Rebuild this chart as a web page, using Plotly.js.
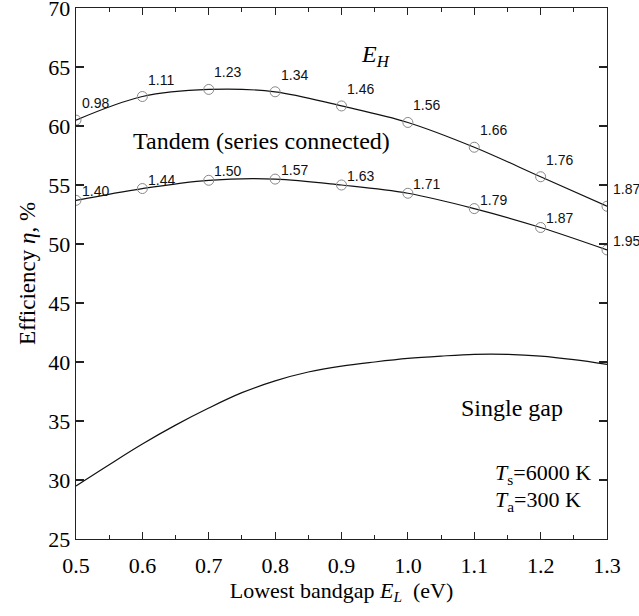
<!DOCTYPE html>
<html>
<head>
<meta charset="utf-8">
<script src="https://cdn.plot.ly/plotly-3.0.1.min.js"></script>
<style>html,body{margin:0;padding:0;background:#fff;}#chart{width:639px;height:616px;}</style>
</head>
<body>
<div id="chart"></div>
<script>
// Lowest bandgap E_L (eV) at the marked points
const bandgapL = [0.5, 0.6, 0.7, 0.8, 0.9, 1.0, 1.1, 1.2, 1.3];
// Efficiency (%) of the E_H-optimised two-gap cell
const effUpper = [60.5, 62.5, 63.1, 62.9, 61.7, 60.3, 58.2, 55.7, 53.2];
const labelsUpper = ["0.98", "1.11", "1.23", "1.34", "1.46", "1.56", "1.66", "1.76", "1.87"];
// Efficiency (%) of the series-connected tandem
const effTandem = [53.7, 54.7, 55.4, 55.5, 55.0, 54.3, 53.0, 51.4, 49.5];
const labelsTandem = ["1.40", "1.44", "1.50", "1.57", "1.63", "1.71", "1.79", "1.87", "1.95"];
// Single gap curve
const bandgapSingle = [0.5, 0.55, 0.6, 0.65, 0.7, 0.75, 0.8, 0.85, 0.9, 0.95, 1.0, 1.05, 1.1, 1.15, 1.2, 1.25, 1.3];
const effSingle = [29.5, 31.3, 33.05, 34.65, 36.1, 37.4, 38.4, 39.15, 39.65, 40.0, 40.3, 40.5, 40.65, 40.65, 40.5, 40.2, 39.8];

const serif = "Liberation Serif";
const sans = "Liberation Sans";

const lineStyle = {color: "#111", width: 1.2, shape: "spline", smoothing: 1};
const markerStyle = {symbol: "circle-open", size: 10, color: "#888", line: {color: "#888", width: 1}};

const traces = [
  {x: bandgapL, y: effUpper, mode: "lines", line: lineStyle, hoverinfo: "skip"},
  {x: bandgapL, y: effUpper, mode: "markers", marker: markerStyle},
  {x: bandgapL, y: effTandem, mode: "lines", line: lineStyle, hoverinfo: "skip"},
  {x: bandgapL, y: effTandem, mode: "markers", marker: markerStyle},
  {x: bandgapSingle, y: effSingle, mode: "lines", line: lineStyle}
];

const annotations = [];
bandgapL.forEach((xv, i) => {
  annotations.push({x: xv, y: effUpper[i], text: labelsUpper[i], showarrow: false,
    xshift: 19, yshift: 17, font: {family: sans, size: 14, color: "#111"}});
  annotations.push({x: xv, y: effTandem[i], text: labelsTandem[i], showarrow: false,
    xshift: 19, yshift: 9, font: {family: sans, size: 14, color: "#111"}});
});
annotations.push({x: 0.951, y: 65.9, text: "<i>E</i><sub><i>H</i></sub>", showarrow: false,
  font: {family: serif, size: 24, color: "#000"}});
annotations.push({x: 0.779, y: 58.75, text: "Tandem (series connected)", showarrow: false,
  font: {family: serif, size: 24, color: "#000"}});
annotations.push({x: 1.157, y: 36.13, text: "Single gap", showarrow: false,
  font: {family: serif, size: 24, color: "#000"}});
annotations.push({x: 1.128, y: 30.5, xanchor: "left", text: "<i>T</i><sub>s</sub>=6000 K", showarrow: false,
  font: {family: serif, size: 22, color: "#000"}});
annotations.push({x: 1.128, y: 28.2, xanchor: "left", text: "<i>T</i><sub>a</sub>=300 K", showarrow: false,
  font: {family: serif, size: 22, color: "#000"}});

const layout = {
  width: 639, height: 616,
  margin: {l: 76, r: 32, t: 8, b: 77},
  paper_bgcolor: "#fff", plot_bgcolor: "#fff",
  showlegend: false,
  font: {family: serif, size: 22, color: "#000"},
  xaxis: {
    range: [0.5, 1.3], dtick: 0.1, tick0: 0.5, tickformat: ".1f",
    showgrid: false, zeroline: false,
    showline: true, linecolor: "#222", linewidth: 1.4, mirror: "ticks",
    ticks: "inside", ticklen: 7, tickwidth: 1.2, tickcolor: "#222",
    minor: {dtick: 0.05, ticks: "inside", ticklen: 4, tickwidth: 1, tickcolor: "#222"},
    tickfont: {family: serif, size: 22, color: "#000"},
    ticklabelstandoff: 6, ticklabeloverflow: "allow",
    title: {text: "Lowest bandgap <i>E</i><sub><i>L</i></sub>  (eV)", font: {family: serif, size: 22, color: "#000"}, standoff: 5}
  },
  yaxis: {
    range: [25, 70], dtick: 5, tick0: 25,
    showgrid: false, zeroline: false,
    showline: true, linecolor: "#222", linewidth: 1.4, mirror: "ticks",
    ticks: "inside", ticklen: 8, tickwidth: 1.2, tickcolor: "#222",
    tickfont: {family: serif, size: 22, color: "#000"},
    ticklabeloverflow: "allow",
    title: {text: "Efficiency <i>η</i>, %", font: {family: serif, size: 23, color: "#000"}, standoff: 6}
  },
  annotations: annotations
};

Plotly.newPlot("chart", traces, layout, {displayModeBar: false, staticPlot: true});
</script>
</body>
</html>
